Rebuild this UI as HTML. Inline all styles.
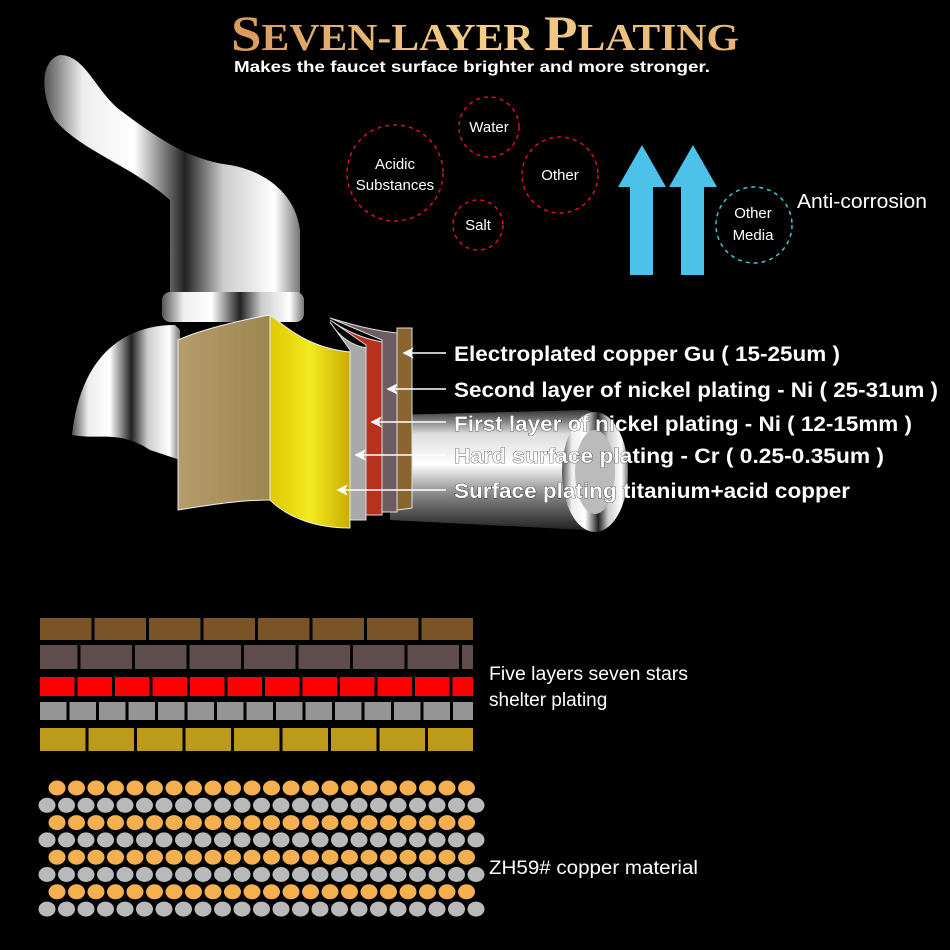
<!DOCTYPE html>
<html><head><meta charset="utf-8"><style>
html,body{margin:0;padding:0;background:#000;}
svg{display:block}
</style></head><body>
<svg id="s" width="950" height="950" viewBox="0 0 950 950" xmlns="http://www.w3.org/2000/svg">
<defs>
<linearGradient id="gold" x1="0" y1="0" x2="1" y2="0">
<stop offset="0" stop-color="#d9995a"/><stop offset="0.5" stop-color="#f3cf8a"/><stop offset="1" stop-color="#e7b572"/></linearGradient>
<linearGradient id="chromeV" x1="0" y1="0" x2="1" y2="0">
<stop offset="0" stop-color="#555"/><stop offset="0.15" stop-color="#eee"/><stop offset="0.35" stop-color="#fff"/><stop offset="0.55" stop-color="#222"/><stop offset="0.7" stop-color="#ccc"/><stop offset="0.9" stop-color="#fff"/><stop offset="1" stop-color="#777"/></linearGradient>
<linearGradient id="chromeH" x1="0" y1="0" x2="0" y2="1">
<stop offset="0" stop-color="#333"/><stop offset="0.2" stop-color="#ddd"/><stop offset="0.45" stop-color="#fff"/><stop offset="0.7" stop-color="#888"/><stop offset="1" stop-color="#222"/></linearGradient>
<linearGradient id="tan" x1="0" y1="0" x2="1" y2="0"><stop offset="0" stop-color="#b59c6c"/><stop offset="1" stop-color="#9e8650"/></linearGradient>
<linearGradient id="yel" x1="0" y1="0" x2="1" y2="0"><stop offset="0" stop-color="#e0c800"/><stop offset="0.5" stop-color="#f3ea20"/><stop offset="1" stop-color="#c9ac00"/></linearGradient>
</defs>
<text x="485" y="50" text-anchor="middle" font-family="Liberation Serif, serif" font-weight="bold" font-size="38" fill="url(#gold)" textLength="508" lengthAdjust="spacingAndGlyphs"><tspan font-size="50">S</tspan>EVEN-LAYER <tspan font-size="50">P</tspan>LATING</text>
<text x="472" y="72" text-anchor="middle" font-family="Liberation Sans, sans-serif" font-weight="bold" font-size="16" fill="#fff" textLength="476" lengthAdjust="spacingAndGlyphs">Makes the faucet surface brighter and more stronger.</text>
<!-- faucet -->
<path d="M60 55 C40 60 40 95 55 120 C80 150 130 165 170 200 L170 300 L300 300 L300 230 C295 190 260 170 230 165 C190 160 160 140 120 110 C95 90 85 55 60 55Z" fill="url(#chromeV)"/>
<rect x="162" y="292" width="142" height="30" rx="8" fill="url(#chromeV)"/>
<path d="M175 325 C120 325 80 360 72 435 C100 440 120 430 150 450 L180 460 L180 330Z" fill="url(#chromeV)"/>
<path d="M390 415 L585 410 C600 410 612 440 612 470 C612 500 600 530 585 530 L390 520Z" fill="url(#chromeH)"/>
<ellipse cx="595" cy="472" rx="33" ry="60" fill="url(#chromeV)"/>
<ellipse cx="595" cy="472" rx="20" ry="42" fill="#bbb"/>
<!-- layers -->
<path d="M397 328 L412 328 L412 508 L397 510Z" fill="#8a6530" stroke="#ddd" stroke-width="1"/>
<path d="M330 318 C350 324 370 330 397 333 L397 512 L382 512 L382 340Z" fill="#6d5c62" stroke="#ddd" stroke-width="1"/>
<path d="M330 320 C345 330 360 338 382 342 L382 515 L366 515 L366 345Z" fill="#b8301e" stroke="#ddd" stroke-width="1"/>
<path d="M330 322 C340 338 352 345 366 348 L366 520 L350 520 L350 350Z" fill="#a9a9a9" stroke="#ddd" stroke-width="1"/>
<path d="M270 315 C290 330 310 348 350 352 L350 528 C320 528 290 520 270 500Z" fill="url(#yel)" stroke="#eee" stroke-width="1"/>
<path d="M178 340 C200 330 240 320 270 315 L270 500 C240 500 210 505 178 510Z" fill="url(#tan)" stroke="#eee" stroke-width="1"/>
<g stroke="#fff" stroke-width="1.5" fill="#fff">
<line x1="407" y1="353" x2="446" y2="353"/><path d="M404 353 L412 349 L410 353 L412 357Z"/>
<line x1="391" y1="389" x2="446" y2="389"/><path d="M388 389 L396 385 L394 389 L396 393Z"/>
<line x1="375" y1="422" x2="446" y2="422"/><path d="M372 422 L380 418 L378 422 L380 426Z"/>
<line x1="359" y1="455" x2="446" y2="455"/><path d="M356 455 L364 451 L362 455 L364 459Z"/>
<line x1="341" y1="490" x2="446" y2="490"/><path d="M338 490 L346 486 L344 490 L346 494Z"/>
</g>
<g font-family="Liberation Sans, sans-serif" font-weight="bold" font-size="21" fill="#fff" stroke="#000" stroke-width="0.6" paint-order="stroke" lengthAdjust="spacingAndGlyphs">
<text x="454" y="361" textLength="386" lengthAdjust="spacingAndGlyphs">Electroplated copper Gu ( 15-25um )</text>
<text x="454" y="397" textLength="484" lengthAdjust="spacingAndGlyphs">Second layer of nickel plating - Ni ( 25-31um )</text>
<text x="454" y="431" textLength="458" lengthAdjust="spacingAndGlyphs">First layer of nickel plating - Ni ( 12-15mm )</text>
<text x="454" y="463" textLength="430" lengthAdjust="spacingAndGlyphs">Hard surface plating -  Cr ( 0.25-0.35um )</text>
<text x="454" y="498" textLength="396" lengthAdjust="spacingAndGlyphs">Surface plating titanium+acid copper</text>
</g>
<g fill="none" stroke="#e0101a" stroke-width="1.5" stroke-dasharray="4 4">
<circle cx="489" cy="127" r="30"/><circle cx="395" cy="173" r="48"/><circle cx="560" cy="175" r="38"/><circle cx="478" cy="225" r="25"/>
</g>
<circle cx="754" cy="225" r="38" fill="none" stroke="#3fc7d6" stroke-width="1.5" stroke-dasharray="4 4"/>
<g font-family="Liberation Sans, sans-serif" font-size="15" fill="#fff" text-anchor="middle">
<text x="489" y="132">Water</text><text x="395" y="169">Acidic</text><text x="395" y="190">Substances</text>
<text x="560" y="180">Other</text><text x="478" y="230">Salt</text>
<text x="753" y="218">Other</text><text x="753" y="240">Media</text>
</g>
<text x="797" y="208" font-family="Liberation Sans, sans-serif" font-size="20" fill="#fff" textLength="130" lengthAdjust="spacingAndGlyphs">Anti-corrosion</text>
<g fill="#4cc1ea">
<path d="M642 145 L666 187 L653 187 L653 275 L630 275 L630 187 L618 187Z"/>
<path d="M693 145 L717 187 L704 187 L704 275 L681 275 L681 187 L669 187Z"/>
</g>
<g id="bricks"></g>
<g id="dots"></g>
<g font-family="Liberation Sans, sans-serif" font-size="19" fill="#fff">
<text x="489" y="680" textLength="199" lengthAdjust="spacingAndGlyphs">Five layers seven stars</text>
<text x="489" y="706">shelter plating</text>
<text x="489" y="874" textLength="209" lengthAdjust="spacingAndGlyphs">ZH59# copper material</text>
</g>
</svg>
<script>
var NS="http://www.w3.org/2000/svg";
function r(g,a){var e=document.createElementNS(NS,a.t);for(var k in a)if(k!="t")e.setAttribute(k,a[k]);g.appendChild(e);}
var b=document.getElementById("bricks");
var rows=[[618,22,54.5,0,"#7a5327"],[645,24,54.5,-14,"#5f4c4d"],[677,19,37.5,0,"#ff0000"],[702,18,29.5,0,"#959595"],[728,23,48.5,0,"#bd9a1a"]];
rows.forEach(function(R){for(var x=40+R[3];x<473;x+=R[2]){var x0=Math.max(x,40),x1=Math.min(x+R[2]-3,473);if(x1>x0)r(b,{t:"rect",x:x0,y:R[0],width:x1-x0,height:R[1],fill:R[4]});}});
var d=document.getElementById("dots");
for(var i=0;i<8;i++){var y=788+i*17.3;var o=i%2==0;var n=o?22:23;var x0=o?57:47;for(var j=0;j<n;j++)r(d,{t:"ellipse",cx:x0+j*19.5,cy:y,rx:8.5,ry:7.5,fill:o?"#f4b04f":"#b9b9b9"});}
</script>
</body></html>
